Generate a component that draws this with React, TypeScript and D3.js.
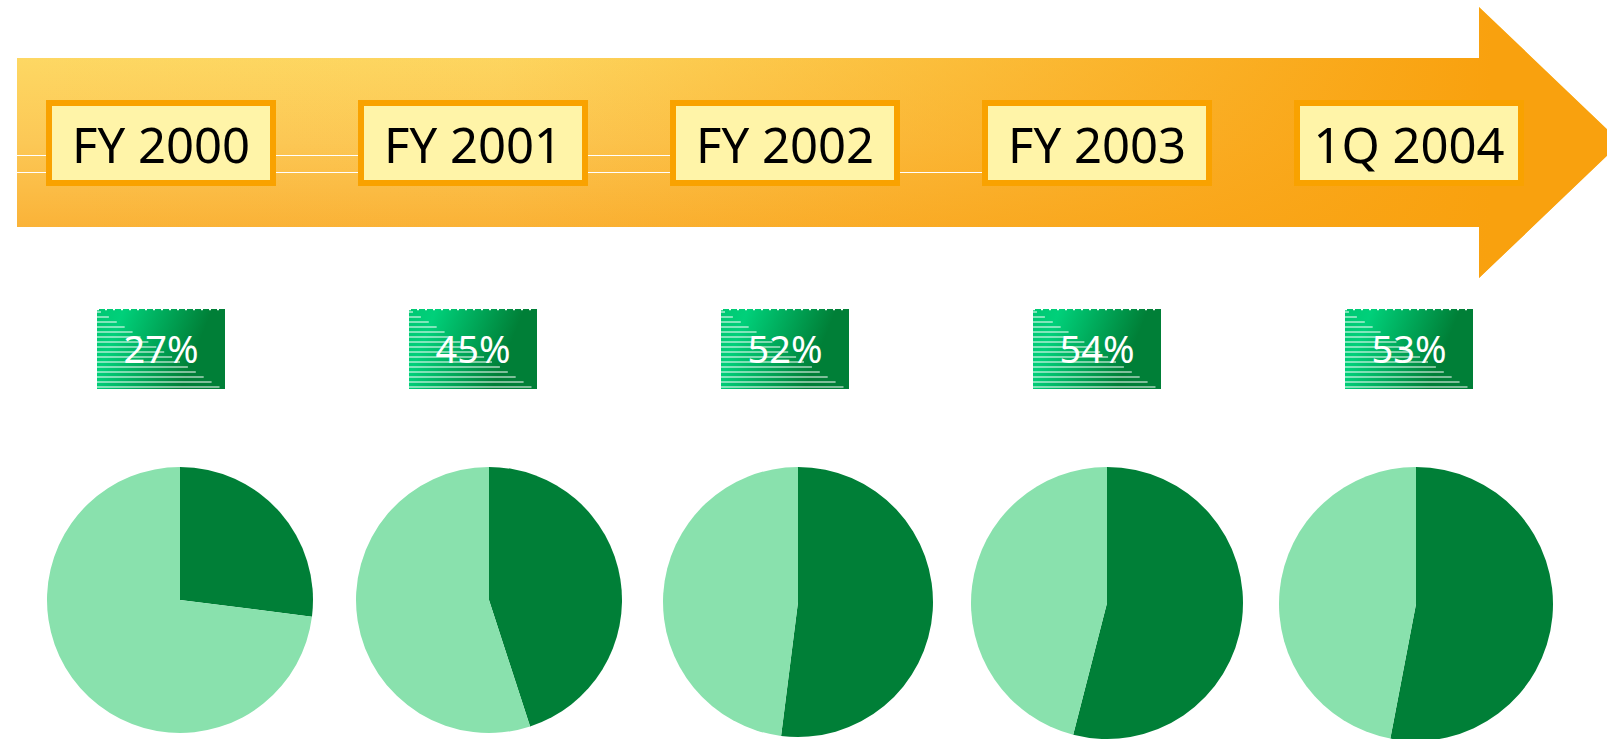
import React from "react";
import * as d3 from "d3";

// periods along the arrow and the share (%) shown for each
const periods = ["FY 2000", "FY 2001", "FY 2002", "FY 2003", "1Q 2004"];
const shares = [27, 45, 52, 54, 53];
const pieRadii = [133, 133, 135, 136, 137];

const W = 1607;
const H = 739;
const dark = "#007F37";
const light = "#89E1AD";

export default function App() {
  // x positions of boxes and pies
  const xBox = d3.scalePoint<string>().domain(periods).range([161, 1409]);
  const xPie = d3.scalePoint<string>().domain(periods).range([180, 1416]);

  const pie = d3.pie<number>().sort(null).value((d) => d);

  // arrow outline
  const arrowPath = d3.path();
  arrowPath.moveTo(17, 58);
  arrowPath.lineTo(1479, 58);
  arrowPath.lineTo(1479, 7);
  arrowPath.lineTo(1621, 142.5);
  arrowPath.lineTo(1479, 278);
  arrowPath.lineTo(1479, 227);
  arrowPath.lineTo(17, 227);
  arrowPath.closePath();

  const boxW = 128;
  const boxH = 80;
  const stripes = d3.range(16);

  return (
    <svg
      width={W}
      height={H}
      style={{ position: "absolute", left: 0, top: 0, background: "#fff" }}
      fontFamily="'Noto Sans', 'Open Sans', sans-serif"
    >
      <defs>
        <linearGradient id="arrowV" x1="0" y1="0" x2="0" y2="1">
          <stop offset="0" stopColor="#FEE16B" />
          <stop offset="0.5" stopColor="#FCC856" />
          <stop offset="1" stopColor="#F9A626" />
        </linearGradient>
        <linearGradient id="arrowH" x1="0" y1="0" x2="1" y2="0">
          <stop offset="0" stopColor="#F9A10E" stopOpacity="0" />
          <stop offset="0.3" stopColor="#F9A10E" stopOpacity="0.05" />
          <stop offset="0.92" stopColor="#F9A10E" stopOpacity="1" />
        </linearGradient>
        <linearGradient id="greenG" x1="0" y1="0" x2="1" y2="0.25">
          <stop offset="0" stopColor="#00C873" />
          <stop offset="0.2" stopColor="#00D07A" />
          <stop offset="0.85" stopColor={dark} />
          <stop offset="1" stopColor={dark} />
        </linearGradient>
      </defs>

      {/* arrow */}
      <path d={arrowPath.toString()} fill="url(#arrowV)" />
      <path d={arrowPath.toString()} fill="url(#arrowH)" />

      {/* thin white lines through the arrow */}
      <line x1={17} x2={xBox(periods[2])! - 115} y1={155.5} y2={155.5} stroke="#fff" strokeWidth={1.2} />
      <line x1={17} x2={xBox(periods[3])! - 115} y1={172.5} y2={172.5} stroke="#fff" strokeWidth={1.2} />

      {/* period labels */}
      {periods.map((p) => {
        const cx = xBox(p)!;
        return (
          <g key={p}>
            <rect x={cx - 112} y={103} width={224} height={80} fill="#FFF4A8" stroke="#F9A200" strokeWidth={6} />
            <text x={cx} y={163} textAnchor="middle" fontSize={49} fill="#000">
              {p}
            </text>
          </g>
        );
      })}

      {/* percent boxes */}
      {periods.map((p, i) => {
        const cx = xBox(p)!;
        const x0 = cx - boxW / 2;
        const y0 = 309;
        return (
          <g key={"pct" + p}>
            <rect x={x0} y={y0} width={boxW} height={boxH} fill="url(#greenG)" />
            {stripes.map((k) => (
              <line
                key={k}
                x1={x0}
                x2={x0 + 4 + k * 7.9}
                y1={y0 + 3 + k * 5}
                y2={y0 + 3 + k * 5}
                stroke="#fff"
                strokeWidth={1}
              />
            ))}
            <line x1={x0} x2={x0 + boxW} y1={y0 + 0.5} y2={y0 + 0.5} stroke="#fff" strokeWidth={1.5} strokeDasharray="2 6" />
            <text x={cx} y={363} textAnchor="middle" fontSize={38} fill="#fff">
              {shares[i]}%
            </text>
          </g>
        );
      })}

      {/* pies */}
      {periods.map((p, i) => {
        const r = pieRadii[i];
        const cy = 467 + r;
        const arc = d3.arc<d3.PieArcDatum<number>>().innerRadius(0).outerRadius(r);
        const slices = pie([shares[i], 100 - shares[i]]);
        return (
          <g key={"pie" + p} transform={`translate(${xPie(p)},${cy})`}>
            {slices.map((s, j) => (
              <path key={j} d={arc(s) || ""} fill={j === 0 ? dark : light} />
            ))}
          </g>
        );
      })}
    </svg>
  );
}
